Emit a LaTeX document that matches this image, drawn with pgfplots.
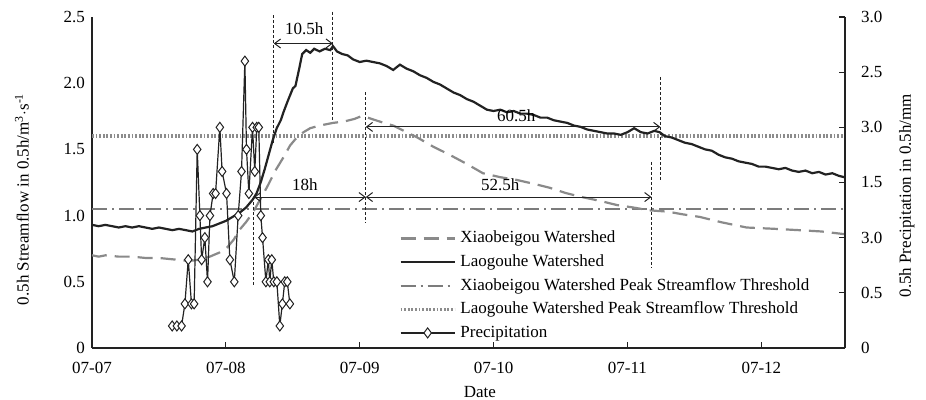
\documentclass[border=0pt]{standalone}
\usepackage{fontspec}
\setmainfont{Liberation Serif}
\usepackage{pgfplots}
\pgfplotsset{compat=1.18}
\usetikzlibrary{arrows.meta}
\definecolor{lineblack}{HTML}{222222}
\definecolor{dashgray}{HTML}{8A8A8A}
\definecolor{dotgray}{HTML}{8C8C8C}
\tikzset{
  annot/.style={lineblack, line width=0.5pt, dash pattern=on 1.5pt off 1pt},
  arr/.style={lineblack, line width=0.5pt, {Straight Barb[length=3pt,width=4.5pt]}-{Straight Barb[length=3pt,width=4.5pt]}},
}
\pgfplotsset{
  base/.style={scale only axis, width=376.5pt, height=165.5pt, xmin=0, xmax=5.625,
    font=\fontsize{8.5}{10}\selectfont,
    /pgf/number format/assume math mode=true,
    axis line style={line width=0.8pt, lineblack},
    tick style={line width=0.6pt, lineblack},
    tick align=inside, major tick length=3pt},
  xbstyle/.style={dashgray, line width=1.1pt, dash pattern=on 7.5pt off 4pt},
  lgstyle/.style={lineblack, line width=1.1pt},
  xbthr/.style={dashgray!90!black, line width=1.1pt, dash pattern=on 7.5pt off 2.5pt on 1pt off 2.5pt},
  lgthr/.style={dotgray, line width=1.8pt, dash pattern=on 0.9pt off 0.9pt},
}
\begin{document}
\begin{tikzpicture}
\useasboundingbox (-46pt,-26pt) rectangle (417pt,174pt);
\begin{axis}[base,
  axis x line*=bottom, axis y line*=left,
  ymin=0, ymax=2.5, clip=false,
  ytick={0,0.5,1,1.5,2,2.5}, yticklabels={0,0.5,1.0,1.5,2.0,2.5},
  ytick style={draw=none},
  xtick={0,1,2,3,4,5}, xticklabels={07-07,07-08,07-09,07-10,07-11,07-12},
  xticklabel style={yshift=-3.5pt},
  xlabel={Date},
  xlabel style={at={(axis description cs:0.515,0)}, anchor=north, yshift=-15.5pt},
  ylabel={0.5h Streamflow in 0.5h/m\textsuperscript{3}$\cdot$s\textsuperscript{-1}},
  ylabel style={at={(axis description cs:-0.093,0.45)}, anchor=center},
]
% Laogouhe threshold
\addplot[lgthr] coordinates {(0,1.60) (5.625,1.60)};
% Xiaobeigou threshold
\addplot[xbthr] coordinates {(0,1.05) (5.625,1.05)};
% Xiaobeigou
\addplot[xbstyle] coordinates {
(0.00,0.70) (0.05,0.69) (0.10,0.70) (0.20,0.69) (0.30,0.69) (0.40,0.68) (0.50,0.68)
(0.60,0.67) (0.70,0.66) (0.75,0.66) (0.82,0.67) (0.88,0.69) (0.95,0.72) (1.01,0.76)
(1.06,0.82) (1.10,0.89) (1.15,0.95) (1.20,1.02) (1.25,1.11) (1.31,1.22) (1.37,1.34)
(1.43,1.44) (1.48,1.53) (1.53,1.59) (1.58,1.63) (1.63,1.66) (1.70,1.68) (1.80,1.70)
(1.88,1.71) (1.96,1.73) (2.01,1.75) (2.06,1.74) (2.12,1.72) (2.18,1.70) (2.25,1.68)
(2.33,1.64) (2.43,1.59) (2.55,1.52) (2.67,1.46) (2.80,1.39) (2.92,1.32) (3.05,1.29)
(3.17,1.27) (3.30,1.24) (3.42,1.21) (3.54,1.17) (3.66,1.14) (3.80,1.11) (3.92,1.08)
(4.05,1.06) (4.16,1.04) (4.30,1.03) (4.41,1.01) (4.54,0.99) (4.70,0.95) (4.89,0.91)
(5.10,0.90) (5.28,0.89) (5.45,0.88) (5.62,0.86)};
% Laogouhe
\addplot[lgstyle] coordinates {
(0.00,0.93) (0.05,0.92) (0.10,0.93) (0.15,0.92) (0.20,0.91) (0.25,0.92) (0.30,0.91)
(0.35,0.92) (0.40,0.91) (0.45,0.90) (0.50,0.91) (0.55,0.90) (0.60,0.89) (0.65,0.90)
(0.70,0.89) (0.75,0.88) (0.80,0.90) (0.85,0.91) (0.90,0.92) (0.95,0.94) (1.00,0.96)
(1.05,0.99) (1.10,1.02) (1.15,1.06) (1.20,1.12) (1.23,1.17) (1.26,1.25) (1.29,1.35)
(1.32,1.46) (1.35,1.57) (1.38,1.66) (1.41,1.72) (1.43,1.78) (1.46,1.86) (1.50,1.96)
(1.52,1.98) (1.55,2.12) (1.57,2.22) (1.60,2.25) (1.63,2.23) (1.66,2.26) (1.70,2.24)
(1.74,2.26) (1.78,2.25) (1.80,2.28) (1.83,2.24) (1.87,2.22) (1.91,2.21) (1.95,2.18)
(2.00,2.16) (2.05,2.17) (2.10,2.16) (2.15,2.15) (2.20,2.13) (2.25,2.10) (2.30,2.14)
(2.35,2.11) (2.40,2.09) (2.45,2.06) (2.50,2.04) (2.55,2.01) (2.60,1.99) (2.65,1.96)
(2.70,1.93) (2.75,1.91) (2.80,1.88) (2.85,1.86) (2.90,1.83) (2.95,1.80) (3.00,1.79)
(3.05,1.80) (3.10,1.78) (3.15,1.79) (3.20,1.77) (3.25,1.77) (3.30,1.76) (3.35,1.74)
(3.40,1.74) (3.45,1.72) (3.50,1.71) (3.55,1.70) (3.60,1.68) (3.65,1.67) (3.70,1.65)
(3.75,1.64) (3.80,1.63) (3.85,1.62) (3.90,1.62) (3.95,1.61) (4.00,1.63) (4.05,1.66)
(4.10,1.63) (4.15,1.62) (4.20,1.64) (4.24,1.63) (4.28,1.60) (4.33,1.59) (4.38,1.57)
(4.43,1.55) (4.48,1.54) (4.53,1.52) (4.58,1.50) (4.63,1.49) (4.68,1.46) (4.73,1.44)
(4.78,1.43) (4.83,1.41) (4.88,1.40) (4.93,1.39) (4.98,1.37) (5.03,1.37) (5.08,1.36)
(5.13,1.35) (5.18,1.36) (5.23,1.34) (5.28,1.33) (5.33,1.34) (5.38,1.32) (5.43,1.33)
(5.48,1.31) (5.53,1.32) (5.58,1.30) (5.62,1.29)};
% annotations
\draw[annot] (axis cs:1.358,2.515) -- (axis cs:1.358,1.548);
\draw[annot] (axis cs:1.799,2.54) -- (axis cs:1.799,1.72);
\draw[arr] (axis cs:1.358,2.30) -- (axis cs:1.799,2.30);
\node[font=\fontsize{8.5}{10}\selectfont] at (axis cs:1.585,2.41) {10.5h};
\draw[annot] (axis cs:1.209,1.14) -- (axis cs:1.209,0.476);
\draw[annot] (axis cs:2.045,1.93) -- (axis cs:2.045,0.944);
\draw[annot] (axis cs:4.179,1.405) -- (axis cs:4.179,0.604);
\draw[annot] (axis cs:4.246,2.047) -- (axis cs:4.246,1.269);
\draw[arr] (axis cs:1.209,1.14) -- (axis cs:2.045,1.14);
\node[font=\fontsize{8.5}{10}\selectfont] at (axis cs:1.59,1.235) {18h};
\draw[arr] (axis cs:2.045,1.14) -- (axis cs:4.179,1.14);
\node[font=\fontsize{8.5}{10}\selectfont] at (axis cs:3.05,1.235) {52.5h};
\draw[arr] (axis cs:2.045,1.67) -- (axis cs:4.246,1.67);
\node[font=\fontsize{8.5}{10}\selectfont] at (axis cs:3.17,1.755) {60.5h};
\end{axis}
\begin{axis}[base,
  axis y line*=right, axis x line=none,
  ymin=0, ymax=3,
  ytick={0,0.5,1,1.5,2,2.5,3}, yticklabels={0,0.5,3.0,1.5,3.0,2.5,3.0},
  yticklabel style={xshift=4.5pt},
  ylabel={0.5h Precipitation in 0.5h/mm},
  ylabel style={at={(axis description cs:1.082,0.46)}, anchor=center, rotate=0},
  legend style={draw=none, fill=none, at={(0.399,0.379)}, anchor=north west,
    font=\fontsize{8.5}{10}\selectfont, row sep=0.2pt,
    nodes={inner sep=2pt, text height=6pt, text depth=1.6pt},
    cells={anchor=west}},
  legend image code/.code={\draw[mark repeat=2,mark phase=2,#1] plot coordinates {(0pt,0pt) (13.5pt,0pt) (27pt,0pt)};},
]
\addlegendimage{xbstyle}
\addlegendentry{Xiaobeigou Watershed}
\addlegendimage{lgstyle}
\addlegendentry{Laogouhe Watershed}
\addlegendimage{xbthr}
\addlegendentry{Xiaobeigou Watershed Peak Streamflow Threshold}
\addlegendimage{lgthr}
\addlegendentry{Laogouhe Watershed Peak Streamflow Threshold}
\addplot[lineblack, line width=0.6pt, mark=diamond*, mark size=2.5pt,
  mark options={fill=white, draw=lineblack, line width=0.5pt}] coordinates {
(0.599,0.2) (0.634,0.2) (0.669,0.2) (0.694,0.4) (0.719,0.8) (0.743,0.4) (0.763,0.4)
(0.786,1.8) (0.806,1.2) (0.819,0.8) (0.843,1.0) (0.863,0.6) (0.881,1.2) (0.905,1.4)
(0.923,1.4) (0.955,2.0) (0.972,1.6) (1.005,1.4) (1.030,0.8) (1.063,0.6) (1.092,1.2)
(1.117,1.6) (1.142,2.6) (1.154,1.8) (1.172,1.4) (1.199,2.0) (1.216,1.6) (1.231,2.0)
(1.246,2.0) (1.261,1.2) (1.274,1.0) (1.299,0.6) (1.317,0.8) (1.328,0.6) (1.343,0.8)
(1.358,0.6) (1.381,0.6) (1.403,0.2) (1.422,0.4) (1.440,0.6) (1.459,0.6) (1.478,0.4)};
\addlegendentry{Precipitation}
\end{axis}
\end{tikzpicture}
\end{document}
